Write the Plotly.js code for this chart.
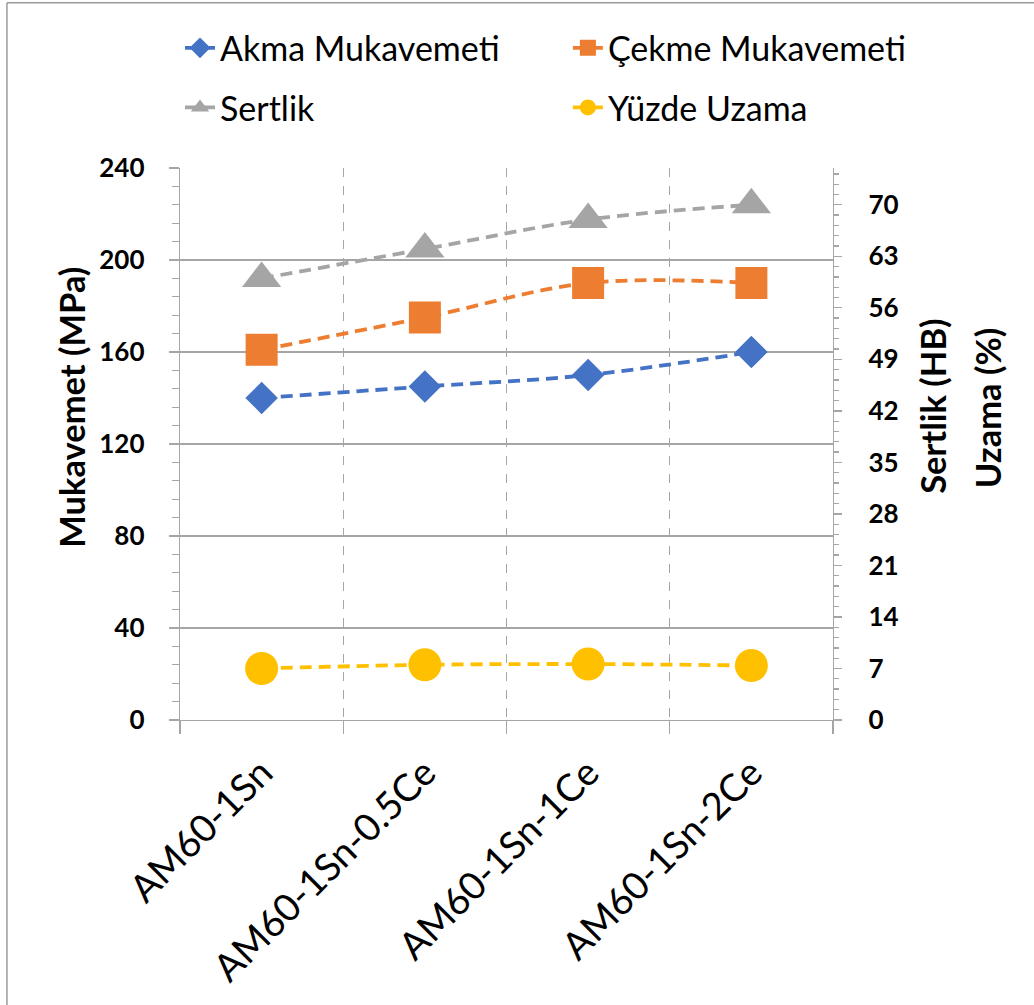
<!DOCTYPE html>
<html>
<head>
<meta charset="utf-8">
<script src="https://cdn.plot.ly/plotly-3.0.1.min.js"></script>
<style>
  html, body { margin: 0; padding: 0; background: #ffffff; }
  #chart { width: 1034px; height: 1005px; }
</style>
</head>
<body>
<div id="chart"></div>
<script>
// Alloy grades along the category axis
const categories = ['AM60-1Sn', 'AM60-1Sn-0.5Ce', 'AM60-1Sn-1Ce', 'AM60-1Sn-2Ce'];

// Strength values (MPa) on the left axis
const akmaMukavemeti = [140, 145, 150, 160];
const cekmeMukavemeti = [161, 175, 190, 190];

// Hardness (HB) and elongation (%) on the right axis
const sertlik = [60, 64, 68, 70];
const yuzdeUzama = [7.0, 7.5, 7.6, 7.4];

// Series names
const seriesNames = ['Akma Mukavemeti', 'Çekme Mukavemeti', 'Sertlik', 'Yüzde Uzama'];

const FONT = 'Lato, "Open Sans", "Liberation Sans", sans-serif';
const GRID = '#a6a6a6';
const DASH = '12px,7px';

function series(name, y, axis, color, symbol, size, legend) {
  return {
    type: 'scatter',
    mode: 'lines+markers',
    name: name,
    x: categories,
    y: y,
    yaxis: axis,
    legend: legend,
    line: { color: color, width: 3.8, dash: DASH, shape: 'spline', smoothing: 1 },
    marker: { color: color, symbol: symbol, size: size, line: { width: 0 } },
    cliponaxis: false
  };
}

const traces = [
  series(seriesNames[0], akmaMukavemeti, 'y', '#4472C4', 'diamond', 25, 'legend'),
  series(seriesNames[1], cekmeMukavemeti, 'y', '#ED7D31', 'square', 32, 'legend2'),
  series(seriesNames[2], sertlik, 'y2', '#A5A5A5', 'triangle-up', 34, 'legend3'),
  series(seriesNames[3], yuzdeUzama, 'y2', '#FFC000', 'circle', 33, 'legend4')
];

function legendAt(x, y) {
  return {
    x: x, y: y, xanchor: 'left', yanchor: 'middle',
    bgcolor: 'rgba(0,0,0,0)', borderwidth: 0,
    font: { family: FONT, size: 34, color: '#000000' }
  };
}

const layout = {
  width: 1034,
  height: 1005,
  margin: { l: 180, r: 201, t: 168, b: 285 },
  paper_bgcolor: '#ffffff',
  plot_bgcolor: '#ffffff',
  font: { family: FONT, color: '#000000' },
  showlegend: true,
  legend: legendAt(0.0, 1.217),
  legend2: legendAt(0.594, 1.217),
  legend3: legendAt(0.0, 1.109),
  legend4: legendAt(0.594, 1.109),
  xaxis: {
    type: 'category',
    range: [-0.5, 3.5],
    tickson: 'boundaries',
    showgrid: true,
    gridcolor: GRID,
    griddash: 'dash',
    gridwidth: 1.3,
    showline: true,
    linecolor: GRID,
    linewidth: 1.3,
    ticks: 'outside',
    ticklen: 13,
    tickcolor: GRID,
    tickwidth: 1.3,
    tickangle: -45,
    ticklabelstandoff: 14,
    tickfont: { family: FONT, size: 38, color: '#000000' },
    zeroline: false,
    fixedrange: true
  },
  yaxis: {
    range: [0, 240],
    dtick: 40,
    tick0: 0,
    showgrid: true,
    gridcolor: GRID,
    gridwidth: 1.3,
    showline: true,
    linecolor: GRID,
    linewidth: 1.3,
    ticks: 'outside',
    ticklen: 10,
    tickcolor: GRID,
    tickwidth: 1.3,
    ticklabelstandoff: 19,
    minor: { dtick: 8, ticks: 'outside', ticklen: 7, tickcolor: GRID, tickwidth: 1.3, showgrid: false },
    tickfont: { family: FONT, size: 26, color: '#000000', weight: 'bold' },
    zeroline: false,
    fixedrange: true
  },
  yaxis2: {
    overlaying: 'y',
    side: 'right',
    range: [0, 75],
    dtick: 7,
    tick0: 0,
    showgrid: false,
    showline: true,
    linecolor: GRID,
    linewidth: 1.3,
    ticks: 'outside',
    ticklen: 8,
    tickcolor: GRID,
    tickwidth: 1.3,
    ticklabelstandoff: 21,
    minor: { dtick: 1.4, ticks: 'outside', ticklen: 5, tickcolor: GRID, tickwidth: 1.3, showgrid: false },
    tickfont: { family: FONT, size: 26, color: '#000000', weight: 'bold' },
    zeroline: false,
    fixedrange: true
  },
  annotations: [
    {
      text: 'Mukavemet (MPa)', textangle: -90, showarrow: false,
      xref: 'paper', yref: 'paper', x: -0.1674, y: 0.567, xanchor: 'center', yanchor: 'middle',
      font: { family: FONT, size: 34.5, color: '#000000', weight: 'bold' }
    },
    {
      text: 'Sertlik (HB)', textangle: -90, showarrow: false,
      xref: 'paper', yref: 'paper', x: 1.153, y: 0.569, xanchor: 'center', yanchor: 'middle',
      font: { family: FONT, size: 34.5, color: '#000000', weight: 'bold' }
    },
    {
      text: 'Uzama (%)', textangle: -90, showarrow: false,
      xref: 'paper', yref: 'paper', x: 1.236, y: 0.565, xanchor: 'center', yanchor: 'middle',
      font: { family: FONT, size: 34.5, color: '#000000', weight: 'bold' }
    }
  ],
  shapes: [
    // chart frame: left and top edges
    { type: 'line', xref: 'paper', yref: 'paper', x0: -0.265, x1: -0.265, y0: 1.2995, y1: -0.52,
      line: { color: '#9a9a9a', width: 1.5 } },
    { type: 'line', xref: 'paper', yref: 'paper', x0: -0.265, x1: 1.32, y0: 1.2995, y1: 1.2995,
      line: { color: '#9a9a9a', width: 1.5 } }
  ]
};

Plotly.newPlot('chart', traces, layout, { displayModeBar: false, staticPlot: true });
</script>
</body>
</html>
